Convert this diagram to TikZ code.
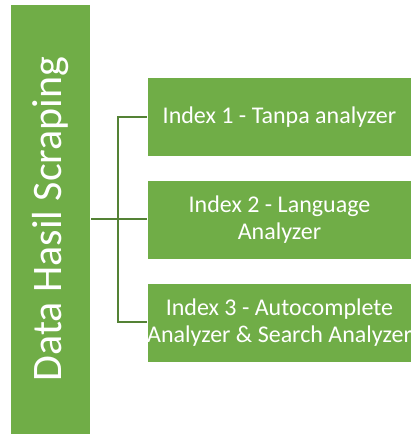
\documentclass[tikz,border=0pt]{standalone}
\usepackage{fontspec}
\setmainfont{Carlito}
\definecolor{boxgreen}{HTML}{70AD47}
\definecolor{linkgreen}{HTML}{548235}
\begin{document}
\begin{tikzpicture}[x=1pt,y=-1pt,
  greenbox/.style={fill=boxgreen,draw=white,line width=0.6pt,inner sep=0pt},
  itemtext/.style={text=white,font=\fontsize{24}{27}\selectfont,align=center},
  link/.style={draw=linkgreen,line width=2.2pt}]
  \useasboundingbox (0,0) rectangle (411,434);
  \clip (0,0) rectangle (411,434);
  % source block
  \path[greenbox] (10,4) rectangle (90,434);
  \node[text=white,font=\fontsize{42}{48}\selectfont,rotate=90] (src) at (51,219) {Data Hasil Scraping};
  \coordinate (srcR) at (91,219);
  % target blocks
  \path[greenbox] (147,77) rectangle (412,156);
  \path[greenbox] (147,180) rectangle (412,259);
  \path[greenbox] (147,283) rectangle (412,362);
  \coordinate (b1) at (147,117);
  \coordinate (b2) at (147,219);
  \coordinate (b3) at (147,322);
  \node[itemtext] (t1) at (279.5,117) {Index 1 - Tanpa analyzer};
  \node[itemtext] (t2) at (279.5,220) {Index 2 - Language\\Analyzer};
  \node[itemtext] (t3) at (279.5,323) {Index 3 - Autocomplete\\Analyzer \& Search Analyzer};
  % connectors
  \coordinate (jt) at (118,117);
  \coordinate (jb) at (118,322);
  \path[link] (srcR) -- (b2);
  \path[link] (b1) -- (jt) -- (jb) -- (b3);
\end{tikzpicture}
\end{document}
